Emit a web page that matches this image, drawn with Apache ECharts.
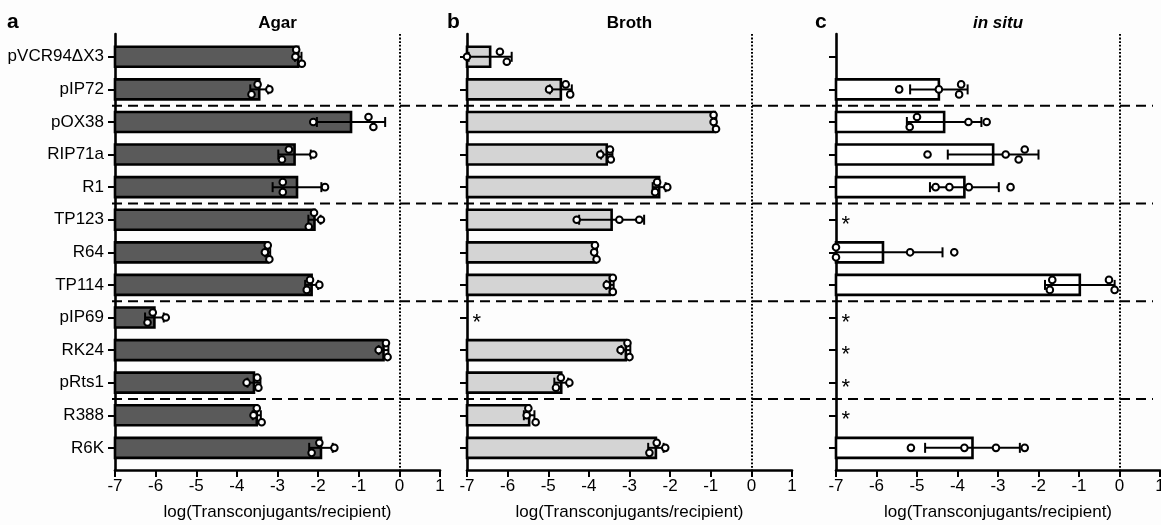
<!DOCTYPE html>
<html>
<head>
<meta charset="utf-8">
<script src="https://cdn.jsdelivr.net/npm/echarts@6.0.0/dist/echarts.min.js"></script>
<style>
  html, body { margin: 0; padding: 0; background: #fdfdfd; }
  #chart { width: 1161px; height: 525px; }
</style>
</head>
<body>
<div id="chart"></div>
<script>
// plasmids, top to bottom
const categories = ['pVCR94ΔX3', 'pIP72', 'pOX38', 'RIP71a', 'R1', 'TP123', 'R64',
  'TP114', 'pIP69', 'RK24', 'pRts1', 'R388', 'R6K'];
// last plasmid of each group (dashed separators below them)
const groupEnds = ['pIP72', 'R1', 'TP114', 'pRts1'];

// a - Agar
const agarMean = [-2.49, -3.45, -1.19, -2.58, -2.52, -2.09, -3.24, -2.16, -6.03, -0.39, -3.58, -3.51, -1.93];
const agarSD = [0.08, 0.22, 0.84, 0.40, 0.60, 0.15, 0.06, 0.16, 0.23, 0.12, 0.16, 0.10, 0.29];
const agarPoints = [
  [-2.54, -2.56, -2.40],
  [-3.49, -3.64, -3.20],
  [-2.12, -0.76, -0.64],
  [-2.72, -2.89, -2.12],
  [-2.87, -2.87, -1.83],
  [-2.10, -1.93, -2.23],
  [-3.24, -3.31, -3.20],
  [-2.20, -2.28, -1.97],
  [-6.07, -6.20, -5.75],
  [-0.33, -0.51, -0.29],
  [-3.50, -3.76, -3.47],
  [-3.51, -3.59, -3.39],
  [-1.97, -2.16, -1.60]
];

// b - Broth
const brothMean = [-6.43, -4.69, -0.90, -3.56, -2.27, -3.44, -3.83, -3.48, null, -3.09, -4.68, -5.47, -2.35];
const brothSD = [0.53, 0.27, 0.035, 0.14, 0.16, 0.80, 0.03, 0.09, null, 0.11, 0.17, 0.13, 0.19];
const brothPoints = [
  [-7.00, -6.19, -6.02],
  [-4.98, -4.57, -4.46],
  [-0.93, -0.93, -0.87],
  [-3.48, -3.72, -3.46],
  [-2.32, -2.37, -2.07],
  [-4.30, -3.25, -2.76],
  [-3.85, -3.87, -3.81],
  [-3.41, -3.56, -3.41],
  [],
  [-3.05, -3.22, -3.00],
  [-4.69, -4.81, -4.48],
  [-5.49, -5.53, -5.31],
  [-2.33, -2.51, -2.12]
];
const brothStars = ['pIP69'];

// c - in situ
const situMean = [null, -4.46, -4.33, -3.12, -3.83, null, -5.84, -0.98, null, null, null, null, -3.63];
const situSD = [null, 0.71, 0.92, 1.12, 0.85, null, 1.47, 0.86, null, null, null, null, 1.17];
const situPoints = [
  [],
  [-5.44, -4.46, -3.91, -3.96],
  [-5.00, -5.18, -3.73, -3.28],
  [-4.74, -2.81, -2.34, -2.49],
  [-4.54, -4.20, -3.72, -2.69],
  [],
  [-7.00, -7.00, -5.17, -4.08],
  [-1.66, -1.72, -0.26, -0.12],
  [], [], [], [],
  [-5.15, -3.83, -3.05, -2.34]
];
const situStars = ['TP123', 'pIP69', 'RK24', 'pRts1', 'R388'];

const xMin = -7, xMax = 1;
const yMin = -0.7, yMax = 12.68;
const FONT = 'Liberation Sans';
const starX = -6.76;
const AXW = 2.6;

const panels = [
  { letter: 'a', title: 'Agar', italic: false, mean: agarMean, sd: agarSD, points: agarPoints, stars: [], fill: '#5a5a5a', left: 115, width: 325 },
  { letter: 'b', title: 'Broth', italic: false, mean: brothMean, sd: brothSD, points: brothPoints, stars: brothStars, fill: '#d4d4d4', left: 467, width: 325 },
  { letter: 'c', title: 'in situ', italic: true, mean: situMean, sd: situSD, points: situPoints, stars: situStars, fill: '#ffffff', left: 836, width: 324 }
];
const letterX = [7, 447, 815];

// points that sit close together get spread vertically (like a scatter dot plot)
function jitter(rows) {
  const out = [];
  rows.forEach((vals, i) => {
    const idx = vals.map((v, k) => k).sort((a, b) => vals[a] - vals[b]);
    let cluster = [];
    const flush = () => {
      const n = cluster.length;
      const step = n === 2 ? 10 : 7;
      cluster.sort((a, b) => a - b).forEach((k, j) => {
        out.push([vals[k], i, (j - (n - 1) / 2) * step]);
      });
      cluster = [];
    };
    idx.forEach((k) => {
      if (cluster.length && vals[k] - vals[cluster[cluster.length - 1]] >= 0.2) flush();
      cluster.push(k);
    });
    if (cluster.length) flush();
  });
  return out;
}

const chart = echarts.init(document.getElementById('chart'));

const grid = [], xAxis = [], yAxis = [], series = [], title = [];
const idxs = categories.map((c, i) => i);

panels.forEach((p, k) => {
  grid.push({ left: p.left, width: p.width, top: 34, bottom: 55, outerBoundsMode: 'none' });
  xAxis.push({
    type: 'value', gridIndex: k, min: xMin, max: xMax, interval: 1,
    splitLine: { show: false },
    axisLine: { onZero: false, lineStyle: { color: '#000', width: AXW } },
    axisTick: { length: 7, lineStyle: { color: '#000', width: 2 } },
    axisLabel: { color: '#000', fontSize: 17, fontFamily: FONT, margin: 8 },
    name: 'log(Transconjugants/recipient)', nameLocation: 'middle', nameGap: 34,
    nameTextStyle: { color: '#000', fontSize: 17, fontFamily: FONT }
  });
  yAxis.push({
    type: 'value', gridIndex: k, inverse: true, min: yMin, max: yMax,
    splitLine: { show: false },
    axisLine: { show: true, onZero: false, lineStyle: { color: '#000', width: AXW } },
    axisTick: { show: true, length: 7, customValues: idxs, lineStyle: { color: '#000', width: 2 } },
    axisLabel: {
      show: k === 0, customValues: idxs, margin: 11,
      formatter: (v) => categories[Math.round(v)],
      color: '#000', fontSize: 17, fontFamily: FONT
    }
  });

  title.push({
    text: p.letter, left: letterX[k], top: 12, padding: 0,
    textStyle: { fontSize: 21, fontWeight: 'bold', color: '#000', fontFamily: FONT }
  });
  title.push({
    text: p.title, left: p.left + p.width / 2, top: 15, padding: 0, textAlign: 'center',
    textStyle: { fontSize: 17, fontWeight: 'bold', fontStyle: p.italic ? 'italic' : 'normal', color: '#000', fontFamily: FONT }
  });

  // bars + error bars (mean ± SD)
  const barData = [];
  p.mean.forEach((m, i) => { if (m != null) barData.push([m, i, p.sd[i]]); });
  series.push({
    type: 'custom', xAxisIndex: k, yAxisIndex: k, clip: false,
    data: barData, encode: { x: 0, y: 1 },
    renderItem: function (params, api) {
      const m = api.value(0), i = api.value(1), s = api.value(2);
      const h = 20, cap = 5;
      const base = api.coord([xMin, i]);
      const end = api.coord([m, i]);
      const pl = api.coord([Math.max(xMin, m - s), i]);
      const ph = api.coord([m + s, i]);
      const line = { stroke: '#000', lineWidth: 2 };
      const children = [
        { type: 'rect', shape: { x: base[0], y: base[1] - h / 2, width: end[0] - base[0], height: h },
          style: { fill: p.fill, stroke: '#000', lineWidth: 2.6 } },
        { type: 'line', shape: { x1: pl[0], y1: pl[1], x2: ph[0], y2: ph[1] }, style: line },
        { type: 'line', shape: { x1: ph[0], y1: ph[1] - cap, x2: ph[0], y2: ph[1] + cap }, style: line }
      ];
      if (m - s > xMin) {
        children.push({ type: 'line', shape: { x1: pl[0], y1: pl[1] - cap, x2: pl[0], y2: pl[1] + cap }, style: line });
      }
      return { type: 'group', children: children };
    },
    markLine: {
      silent: true, symbol: 'none', label: { show: false },
      lineStyle: { color: '#000', width: 2, type: [1.8, 1.8] },
      data: [{ xAxis: 0 }]
    },
    z: 2
  });

  // individual replicates
  series.push({
    type: 'custom', xAxisIndex: k, yAxisIndex: k, clip: false,
    data: jitter(p.points), encode: { x: 0, y: 1 },
    renderItem: function (params, api) {
      const c = api.coord([api.value(0), api.value(1)]);
      return { type: 'circle', shape: { cx: c[0], cy: c[1] + api.value(2), r: 3.3 },
        style: { fill: '#fff', stroke: '#000', lineWidth: 2 } };
    },
    z: 4
  });

  // no transconjugants detected
  if (p.stars.length) {
    series.push({
      type: 'custom', xAxisIndex: k, yAxisIndex: k, clip: false,
      data: p.stars.map(n => [starX, categories.indexOf(n)]), encode: { x: 0, y: 1 },
      renderItem: function (params, api) {
        const c = api.coord([api.value(0), api.value(1)]);
        return { type: 'text', x: c[0], y: c[1] + 5,
          style: { text: '*', fontSize: 22, fontFamily: FONT, fill: '#000', align: 'center', verticalAlign: 'middle' } };
      },
      z: 4
    });
  }
});

// dashed group separators across all three panels
grid.push({ left: 112, right: 8, top: 34, bottom: 55, outerBoundsMode: 'none' });
xAxis.push({ type: 'value', gridIndex: 3, min: 0, max: 1, show: false });
yAxis.push({ type: 'value', gridIndex: 3, inverse: true, min: yMin, max: yMax, show: false });
series.push({
  type: 'custom', xAxisIndex: 3, yAxisIndex: 3, clip: false,
  data: groupEnds.map(n => [0, categories.indexOf(n) + 0.5]), encode: { x: 0, y: 1 },
  renderItem: function (params, api) {
    const a = api.coord([0, api.value(1)]);
    const b = api.coord([1, api.value(1)]);
    return { type: 'line', shape: { x1: a[0], y1: a[1], x2: b[0], y2: b[1] },
      style: { stroke: '#000', lineWidth: 2, lineDash: [10, 6] } };
  },
  z: 1
});

chart.setOption({
  backgroundColor: '#fdfdfd',
  animation: false,
  title: title,
  grid: grid,
  xAxis: xAxis,
  yAxis: yAxis,
  series: series
});
</script>
</body>
</html>
